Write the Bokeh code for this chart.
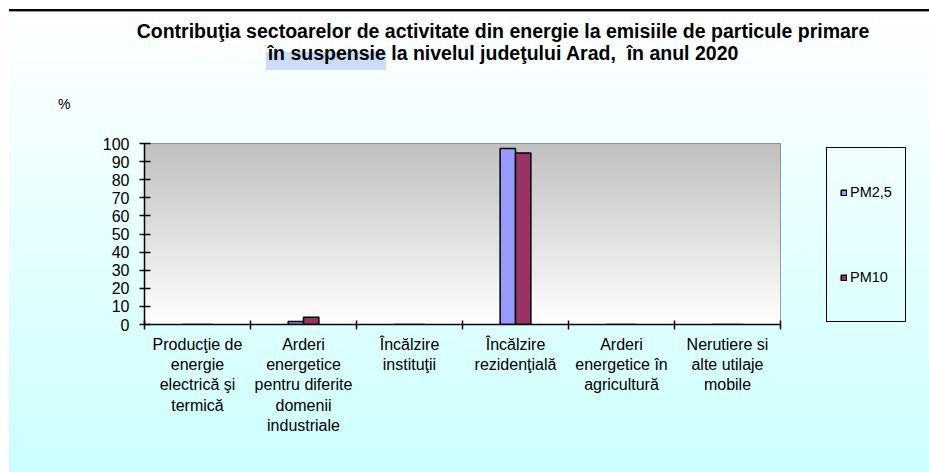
import numpy as np
from bokeh.plotting import figure
from bokeh.layouts import column, row
from bokeh.models import FixedTicker, Legend, LegendItem, Range1d, ColumnDataSource, Div
from bokeh.core.properties import value
from bokeh.transform import dodge
from bokeh.embed import file_html
from bokeh.resources import INLINE

# ---------------- data ----------------
categories = [
    "Producţie de\nenergie\nelectrică şi\ntermică",
    "Arderi\nenergetice\npentru diferite\ndomenii\nindustriale",
    "Încălzire\ninstituţii",
    "Încălzire\nrezidenţială",
    "Arderi\nenergetice în\nagricultură",
    "Nerutiere si\nalte utilaje\nmobile",
]
pm25 = [0, 1.7, 0, 97.2, 0, 0]
pm10 = [0, 4.0, 0, 94.8, 0, 0]
series_names = ["PM2,5", "PM10"]
series_colors = ["#9999ff", "#993366"]
y_ticks = [0, 10, 20, 30, 40, 50, 60, 70, 80, 90, 100]
title_line1 = "Contribuţia sectoarelor de activitate din energie la emisiile de particule primare"
title_line2a = "în suspensie"
title_line2b = "la nivelul judeţului Arad,&nbsp; în anul 2020"
unit_label = "%"

# ---------------- layout (page px) ----------------
TOTAL_W, TOTAL_H = 929, 472
HEAD_H = 115
FL, FR, FT, FB = 144, 780, 143, 324
LEG_L, LEG_B = 826, 322
FONT = "Liberation Sans"

# ---------------- heading (title + unit) ----------------
tstyle = ("position:absolute;left:77px;width:852px;text-align:center;font-weight:bold;"
          "font-size:19.5px;line-height:22px;white-space:nowrap;")
head_html = f"""
<div style="position:relative;width:{TOTAL_W}px;height:{HEAD_H}px;font-family:'{FONT}';color:#000;">
  <div style="position:absolute;left:266px;top:52px;width:120px;height:18px;background:#c9ddf8;"></div>
  <div style="{tstyle}top:20px;">{title_line1}</div>
  <div style="{tstyle}top:42px;">{title_line2a} {title_line2b}</div>
  <div style="position:absolute;left:58px;top:96px;font-size:14px;line-height:16px;">{unit_label}</div>
</div>
"""
head = Div(text=head_html, width=TOTAL_W, height=HEAD_H, margin=0)

# ---------------- main figure ----------------
n = len(categories)
PH = TOTAL_H - HEAD_H
PW = FR + 2
p = figure(width=PW, height=PH, output_backend="svg", toolbar_location=None, tools="",
           x_range=Range1d(0, n), y_range=Range1d(y_ticks[0], y_ticks[-1]),
           min_border_left=FL, min_border_right=PW - FR,
           min_border_top=FT - HEAD_H, min_border_bottom=PH - (FB - HEAD_H), margin=0)
p.border_fill_color = None
p.background_fill_color = None
p.outline_line_color = "#808080"
p.outline_line_width = 1
p.xgrid.visible = False
p.ygrid.visible = False

# plot-area gradient (grey at top to white at bottom)
steps = 256
t = np.linspace(0, 1, steps)
g = np.round(255 - t * (255 - 192)).astype(np.uint8)
rgba = np.zeros((steps, 1, 4), dtype=np.uint8)
rgba[:, 0, 0] = g
rgba[:, 0, 1] = g
rgba[:, 0, 2] = g
rgba[:, 0, 3] = 255
img = rgba.view(dtype=np.uint32).reshape((steps, 1))
p.image_rgba(image=[img], x=p.x_range.start, y=p.y_range.start,
             dw=p.x_range.end - p.x_range.start, dh=p.y_range.end - p.y_range.start)

# bars
centers = [i + 0.5 for i in range(n)]
bw = 0.145
src = ColumnDataSource(dict(x=centers, pm25=pm25, pm10=pm10))
p.vbar(x=dodge("x", -bw / 2), top="pm25", width=bw, source=src,
       fill_color=series_colors[0], line_color="black", line_width=1.5)
p.vbar(x=dodge("x", bw / 2), top="pm10", width=bw, source=src,
       fill_color=series_colors[1], line_color="black", line_width=1.5)

# axes
xa = p.xaxis[0]
xa.ticker = FixedTicker(ticks=centers, minor_ticks=list(range(n + 1)))
xa.major_label_overrides = {c: lab for c, lab in zip(centers, categories)}
xa.major_tick_in = 0
xa.major_tick_out = 0
xa.minor_tick_in = 4
xa.minor_tick_out = 5
xa.minor_tick_line_color = "black"
xa.minor_tick_line_width = 1.5
xa.major_label_standoff = 6

ya = p.yaxis[0]
ya.ticker = FixedTicker(ticks=y_ticks, minor_ticks=[])
ya.major_tick_in = 6
ya.major_tick_out = 5
ya.major_tick_line_color = "black"
ya.major_tick_line_width = 1.5
ya.minor_tick_out = 0
ya.minor_tick_in = 0
ya.major_label_standoff = 10

for ax in (xa, ya):
    ax.axis_line_color = "black"
    ax.axis_line_width = 1.5
    ax.major_label_text_font = FONT
    ax.major_label_text_font_size = "16px"
    ax.major_label_text_color = "black"

# ---------------- legend panel (its frame is aligned with the main frame) ----------------
LW = TOTAL_W - PW
lf = figure(width=LW, height=PH, output_backend="svg", toolbar_location=None, tools="",
            x_range=Range1d(0, 1), y_range=Range1d(0, 1), min_border=0, margin=0)
lf.axis.visible = False
lf.grid.visible = False
lf.outline_line_color = None
lf.border_fill_color = None
lf.background_fill_color = None
# key-only renderers: one NaN row each, so nothing is drawn but the legend swatch has its style
key_renderers = [lf.vbar(x=[np.nan], top=[np.nan], width=bw, fill_color=c,
                         line_color="black", line_width=1.5)
                 for c in series_colors]
legend = Legend(items=[LegendItem(label=value(s), renderers=[r])
                       for s, r in zip(series_names, key_renderers)],
                location=(LEG_L - PW, FB - LEG_B), orientation="vertical",
                border_line_color="black", border_line_width=1.5, border_line_alpha=1.0,
                background_fill_alpha=0,
                padding=13, spacing=23, glyph_width=7, glyph_height=7, label_standoff=3,
                label_height=62, label_text_font=FONT, label_text_font_size="14.5px",
                label_text_color="black", margin=0)
lf.add_layout(legend)

page = column(head, row(p, lf, spacing=0, margin=0), spacing=0, margin=0, styles={
    "background-image":
        "linear-gradient(to right, #ffffff 0px, #ffffff 9px, rgba(255,255,255,0) 9px), "
        "linear-gradient(to bottom, #ffffff 0px, #ffffff 9px, #000000 9px, #000000 11px, "
        "#999999 11px, #999999 12px, #ffffff 12px, #ccffff 100%)"})

open("out.html", "w").write(file_html(page, INLINE))
